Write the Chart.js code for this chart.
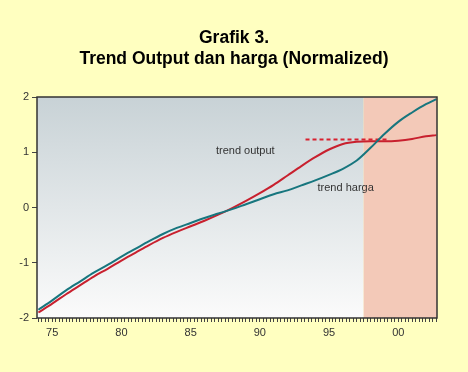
<!DOCTYPE html>
<html>
<head>
<meta charset="utf-8">
<script src="https://cdn.jsdelivr.net/npm/chart.js@4/dist/chart.umd.min.js"></script>
<style>
  html, body { margin: 0; padding: 0; background: #FFFFC0; }
  #wrap { width: 468px; height: 372px; }
</style>
</head>
<body>
<div id="wrap"><canvas id="trendChart"></canvas></div>
<script>
// values
const years = [1974, 1975, 1976, 1977, 1978, 1979, 1980, 1981, 1982, 1983, 1984, 1985, 1986, 1987, 1988,
               1989, 1990, 1991, 1992, 1993, 1994, 1995, 1996, 1997, 1998, 1999, 2000, 2001, 2002, 2002.75];
const trendHarga = [-1.85, -1.68, -1.50, -1.34, -1.18, -1.04, -0.89, -0.75, -0.61, -0.48, -0.37, -0.28, -0.19, -0.11, -0.03,
                    0.06, 0.15, 0.24, 0.31, 0.40, 0.49, 0.59, 0.70, 0.85, 1.08, 1.33, 1.55, 1.72, 1.87, 1.96];
const trendOutput = [-1.90, -1.74, -1.57, -1.41, -1.25, -1.11, -0.96, -0.82, -0.68, -0.55, -0.44, -0.34, -0.24, -0.13, -0.01,
                     0.12, 0.26, 0.41, 0.58, 0.75, 0.91, 1.05, 1.15, 1.19, 1.20, 1.20, 1.21, 1.24, 1.29, 1.31];
const dashYears = [1993.3, 1999.3];
const dashLevel = [1.23, 1.23];
const shadeFrom = 1997.5;
const yTicks = [-2, -1, 0, 1, 2];
const labelNotes = [
    { text: 'trend output', x: 1988.95, y: 1.03 },
    { text: 'trend harga', x: 1996.2, y: 0.36 }
];

const xMin = 1973.9, xMax = 2002.8;
const fontFam = '"Liberation Sans", Arial, sans-serif';

function toPoints(xs, ys) {
    return xs.map((x, i) => ({ x: x, y: ys[i] }));
}

// gradient panel + salmon forecast area behind the lines
const panelPlugin = {
    id: 'panel',
    beforeDatasetsDraw(chart) {
        const { ctx, chartArea: a, scales } = chart;
        const xs = scales.x.getPixelForValue(shadeFrom);
        ctx.save();
        const g = ctx.createLinearGradient(0, a.top, 0, a.bottom);
        g.addColorStop(0, '#C8D2D6');
        g.addColorStop(1, '#FBFBFB');
        ctx.fillStyle = g;
        ctx.fillRect(a.left, a.top, xs - a.left, a.bottom - a.top);
        ctx.fillStyle = '#F3C9B8';
        ctx.fillRect(xs, a.top, a.right - xs, a.bottom - a.top);
        ctx.restore();
    },
    afterDatasetsDraw(chart) {
        const { ctx, chartArea: a, scales } = chart;
        ctx.save();
        ctx.strokeStyle = '#333';
        ctx.lineWidth = 1.5;
        ctx.strokeRect(a.left, a.top, a.right - a.left, a.bottom - a.top);
        ctx.fillStyle = '#333';
        ctx.font = '11px ' + fontFam;
        ctx.textAlign = 'center';
        ctx.textBaseline = 'middle';
        labelNotes.forEach(n => {
            ctx.fillText(n.text, scales.x.getPixelForValue(n.x), scales.y.getPixelForValue(n.y));
        });
        ctx.restore();
    }
};

const ctx = document.getElementById('trendChart').getContext('2d');
new Chart(ctx, {
    type: 'line',
    data: {
        datasets: [{
            label: 'trend harga',
            data: toPoints(years, trendHarga),
            borderColor: '#17767E',
            borderWidth: 2,
            pointRadius: 0,
            cubicInterpolationMode: 'monotone'
        }, {
            label: 'trend output',
            data: toPoints(years, trendOutput),
            borderColor: '#C8202E',
            borderWidth: 2,
            pointRadius: 0,
            cubicInterpolationMode: 'monotone'
        }, {
            label: 'level',
            data: toPoints(dashYears, dashLevel),
            borderColor: '#D8202E',
            borderWidth: 2,
            borderDash: [4, 3],
            pointRadius: 0
        }]
    },
    options: {
        responsive: true,
        maintainAspectRatio: false,
        animation: false,
        layout: { padding: { top: 28, right: 0, left: 0, bottom: 0 } },
        plugins: {
            legend: { display: false },
            tooltip: { enabled: false },
            title: {
                display: true,
                text: ['Grafik 3.', 'Trend Output dan harga (Normalized)'],
                color: '#000',
                font: { family: fontFam, size: 17.5, weight: 'bold', lineHeight: 1.2 },
                padding: { top: 0, bottom: 27 }
            }
        },
        scales: {
            x: {
                type: 'linear',
                min: xMin,
                max: xMax,
                afterBuildTicks(scale) {
                    const t = [];
                    for (let q = 1974 * 4; q <= 2002.75 * 4; q++) t.push({ value: q / 4 });
                    scale.ticks = t;
                },
                afterFit(scale) { scale.height = 54; },
                grid: { drawOnChartArea: false, tickLength: 4, color: '#444', lineWidth: 1 },
                border: { display: false },
                ticks: {
                    autoSkip: false,
                    maxRotation: 0,
                    padding: 4,
                    color: '#333',
                    font: { family: fontFam, size: 11 },
                    callback(v) {
                        const r = Math.round(v);
                        if (Math.abs(v - r) > 1e-6 || r % 5 !== 0) return '';
                        return String(r % 100).padStart(2, '0');
                    }
                }
            },
            y: {
                min: -2,
                max: 2,
                afterBuildTicks(scale) { scale.ticks = yTicks.map(v => ({ value: v })); },
                afterFit(scale) { scale.width = 37; },
                grid: { drawOnChartArea: false, tickLength: 5, color: '#444' },
                border: { display: false },
                ticks: {
                    padding: 3,
                    color: '#333',
                    font: { family: fontFam, size: 11 }
                }
            },
            // empty right-hand axis: just keeps the right margin so the title stays centred on the page
            yRight: {
                position: 'right',
                min: -2,
                max: 2,
                afterFit(scale) { scale.width = 31; },
                grid: { display: false },
                border: { display: false },
                ticks: { display: false }
            }
        }
    },
    plugins: [panelPlugin]
});
</script>
</body>
</html>
